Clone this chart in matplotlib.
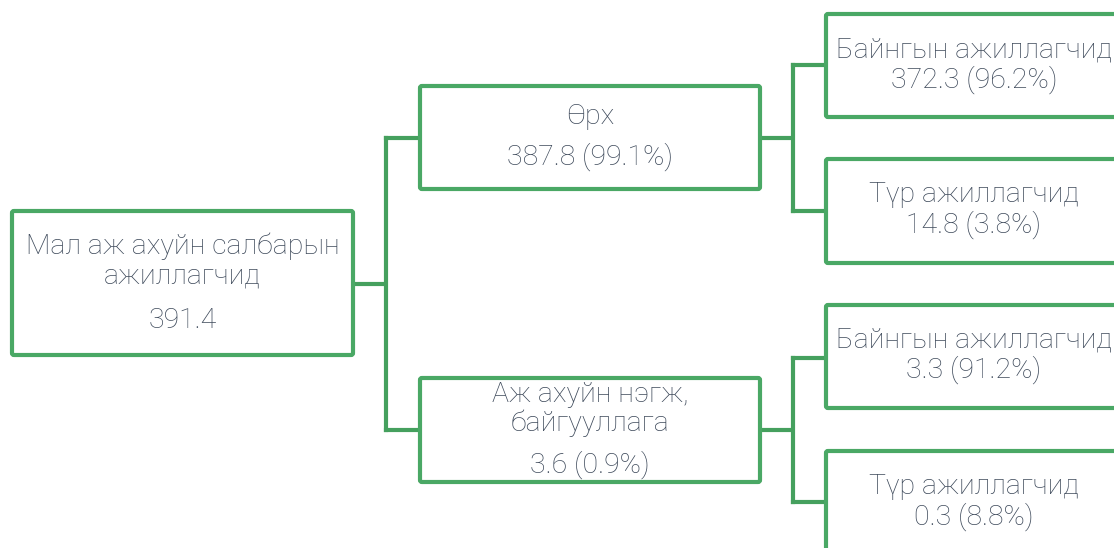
import matplotlib

matplotlib.use("Agg")
import matplotlib.pyplot as plt
from matplotlib.patches import FancyBboxPatch

# ---------------------------------------------------------------------
# Data
# ---------------------------------------------------------------------
node_labels = [
    "Мал аж ахуйн салбарын\nажиллагчид",
    "Өрх",
    "Аж ахуйн нэгж,\nбайгууллага",
    "Байнгын ажиллагчид",
    "Түр ажиллагчид",
    "Байнгын ажиллагчид",
    "Түр ажиллагчид",
]
node_values = [391.4, 387.8, 3.6, 372.3, 14.8, 3.3, 0.3]
node_shares = [None, 99.1, 0.9, 96.2, 3.8, 91.2, 8.8]
parents = [None, 0, 0, 1, 1, 2, 2]

# ---------------------------------------------------------------------
# Layout (pixels, y downward)
# ---------------------------------------------------------------------
W, H = 1114, 548
# x0, y0, x1, y1
boxes = [
    (12, 211, 353, 355),
    (420, 86, 760, 189),
    (420, 378, 760, 482),
    (826, 14, 1122, 117),
    (826, 159, 1122, 263),
    (826, 305, 1122, 408),
    (826, 451, 1122, 560),
]
# y of label block centre, y of value line
text_y = [
    (261, 320),
    (117, 157),
    (409, 465),
    (50, 80),
    (195, 225),
    (340, 370),
    (487, 517),
]
# attachment y on the left edge of each child box
attach_y = [None, 138, 430, 65, 211, 358, 502]
branch_x = {0: 386, 1: 793, 2: 793}

BOX_GREEN = "#4aa865"
LINE_GREEN = "#45a05e"
TEXT = "#3e4a5b"
FONT = ["Roboto", "DejaVu Sans"]
FS = 20.5

fig = plt.figure(figsize=(W / 100, H / 100), dpi=100)
ax = fig.add_axes([0, 0, 1, 1])
ax.set_xlim(0, W)
ax.set_ylim(H, 0)
ax.axis("off")

# connectors
for parent, bx in branch_x.items():
    kids = [i for i, p in enumerate(parents) if p == parent]
    px1 = boxes[parent][2]
    py = (attach_y[kids[0]] + attach_y[kids[-1]]) / 2
    ax.plot([px1, bx], [py, py], color=LINE_GREEN, lw=3,
            solid_capstyle="butt", zorder=1)
    ax.plot([bx, bx], [attach_y[kids[0]], attach_y[kids[-1]]],
            color=LINE_GREEN, lw=3, solid_capstyle="projecting", zorder=1)
    for k in kids:
        ax.plot([bx, boxes[k][0]], [attach_y[k], attach_y[k]],
                color=LINE_GREEN, lw=3, solid_capstyle="projecting", zorder=1)

# boxes and text
for i, (x0, y0, x1, y1) in enumerate(boxes):
    ax.add_patch(FancyBboxPatch((x0, y0), x1 - x0, y1 - y0,
                                boxstyle="round,pad=0,rounding_size=2",
                                fc="white", ec=BOX_GREEN, lw=3, zorder=2))
    cx = (x0 + x1) / 2
    ly, vy = text_y[i]
    if node_shares[i] is None:
        val = f"{node_values[i]:.1f}"
    else:
        val = f"{node_values[i]:.1f} ({node_shares[i]:.1f}%)"
    ax.text(cx, ly, node_labels[i], ha="center", va="center",
            fontsize=FS, color=TEXT, family=FONT, fontweight="light",
            linespacing=1.08, zorder=3)
    ax.text(cx, vy, val, ha="center", va="center",
            fontsize=FS, color=TEXT, family=FONT, fontweight="light", zorder=3)

fig.savefig("out.png", dpi=100)
